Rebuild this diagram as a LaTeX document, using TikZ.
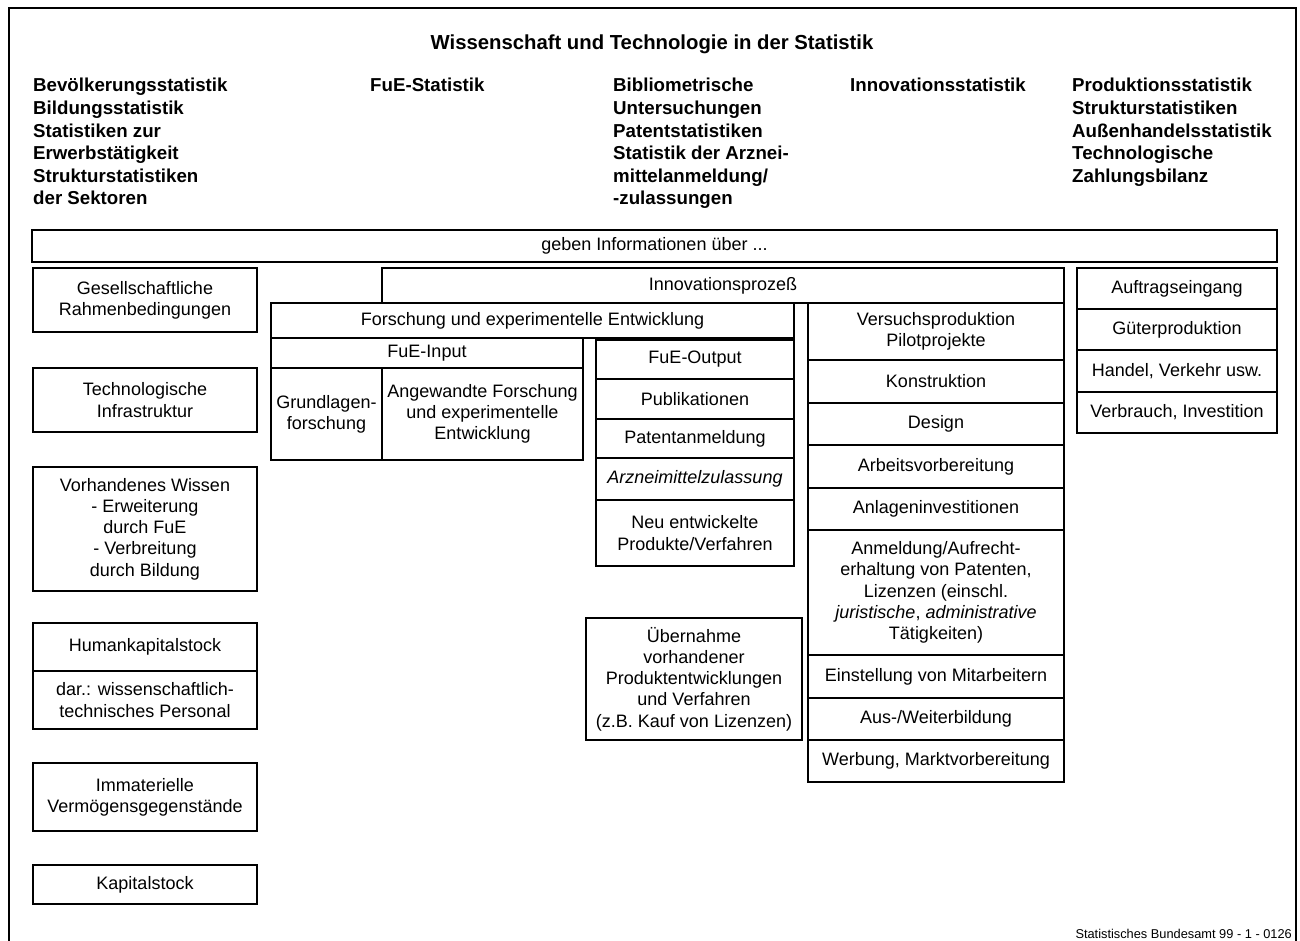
\documentclass[tikz,border=0pt]{standalone}
\usepackage{fontspec}
\setmainfont{Liberation Sans}
\begin{document}
\begin{tikzpicture}[x=1pt,y=-1pt,
  bx/.style={draw, line width=1.6pt, inner sep=0pt, align=center,
    font=\fontsize{18}{21.3}\selectfont},
  hdr/.style={inner sep=0pt, anchor=base west, font=\fontsize{18.7}{22.6}\selectfont\bfseries},
  frame/.style={line width=1.6pt}]
\useasboundingbox (0,0) rectangle (1300,941);
\clip (0,0) rectangle (1300,941);
\newcommand\bx[6]{\node[bx, minimum width={#4-#2}, minimum height={#5-#3}] (#1) at ({(#2+#4)/2},{(#3+#5)/2}) {#6};}
% outer frame
\coordinate (fbl) at (9,960);
\coordinate (ftl) at (9,8);
\coordinate (ftr) at (1296,8);
\coordinate (fbr) at (1296,960);
\draw[frame] (fbl) -- (ftl) -- (ftr) -- (fbr);
% title
\node[inner sep=0pt, anchor=base, font=\fontsize{20.3}{24}\selectfont\bfseries] (title) at (652,50) {Wissenschaft und Technologie in der Statistik};
% header columns
\node[hdr] (h1) at (33,92) {\begin{tabular}[t]{@{}l@{}}Bevölkerungsstatistik\\Bildungsstatistik\\Statistiken zur\\Erwerbstätigkeit\\Strukturstatistiken\\der Sektoren\end{tabular}};
\node[hdr] (h2) at (370,92) {\begin{tabular}[t]{@{}l@{}}FuE-Statistik\end{tabular}};
\node[hdr] (h3) at (613,92) {\begin{tabular}[t]{@{}l@{}}Bibliometrische\\Untersuchungen\\Patentstatistiken\\Statistik der Arznei-\\mittelanmeldung/\\-zulassungen\end{tabular}};
\node[hdr] (h4) at (850,92) {\begin{tabular}[t]{@{}l@{}}Innovationsstatistik\end{tabular}};
\node[hdr] (h5) at (1072,92) {\begin{tabular}[t]{@{}l@{}}Produktionsstatistik\\Strukturstatistiken\\Außenhandelsstatistik\\Technologische\\Zahlungsbilanz\end{tabular}};
% info bar
\bx{geben}{32}{230}{1277}{262}{geben Informationen über ...}
% left column
\bx{ges}{33}{268}{257}{332}{Gesellschaftliche\\Rahmenbedingungen}
\bx{tech}{33}{368}{257}{432}{Technologische\\Infrastruktur}
\bx{wiss}{33}{467}{257}{591}{Vorhandenes Wissen\\- Erweiterung\\durch FuE\\- Verbreitung\\durch Bildung}
\bx{hum}{33}{623}{257}{671}{Humankapitalstock}
\bx{dar}{33}{671}{257}{729}{dar.: wissenschaftlich-\\technisches Personal}
\bx{imm}{33}{763}{257}{831}{Immaterielle\\Vermögensgegenstände}
\bx{kap}{33}{865}{257}{904}{Kapitalstock}
% innovation process
\bx{innov}{382}{268}{1064}{303}{Innovationsprozeß}
\bx{fue}{271}{303}{794}{338}{Forschung und experimentelle Entwicklung}
\bx{fuein}{271}{338}{583}{368}{FuE-Input}
\bx{grund}{271}{368}{382}{460}{Grundlagen-\\forschung}
\bx{angew}{382}{368}{583}{460}{Angewandte Forschung\\und experimentelle\\Entwicklung}
\bx{fueout}{596}{340}{794}{379}{FuE-Output}
\bx{publ}{596}{379}{794}{419}{Publikationen}
\bx{pat}{596}{419}{794}{458}{Patentanmeldung}
\bx{arz}{596}{458}{794}{500}{\textit{Arzneimittelzulassung}}
\bx{neu}{596}{500}{794}{566}{Neu entwickelte\\Produkte/Verfahren}
\bx{ueb}{586}{618}{802}{740}{Übernahme\\vorhandener\\Produktentwicklungen\\und Verfahren\\(z.B. Kauf von Lizenzen)}
% production side column
\bx{vers}{808}{303}{1064}{360}{Versuchsproduktion\\Pilotprojekte}
\bx{kon}{808}{360}{1064}{403}{Konstruktion}
\bx{des}{808}{403}{1064}{445}{Design}
\bx{arb}{808}{445}{1064}{488}{Arbeitsvorbereitung}
\bx{anl}{808}{488}{1064}{530}{Anlageninvestitionen}
\bx{anm}{808}{530}{1064}{655}{Anmeldung/Aufrecht-\\erhaltung von Patenten,\\Lizenzen (einschl.\\\textit{juristische}, \textit{administrative}\\Tätigkeiten)}
\bx{ein}{808}{655}{1064}{698}{Einstellung von Mitarbeitern}
\bx{aus}{808}{698}{1064}{740}{Aus-/Weiterbildung}
\bx{wer}{808}{740}{1064}{782}{Werbung, Marktvorbereitung}
% right column
\bx{auf}{1077}{268}{1277}{309}{Auftragseingang}
\bx{gut}{1077}{309}{1277}{350}{Güterproduktion}
\bx{han}{1077}{350}{1277}{392}{Handel, Verkehr usw.}
\bx{verb}{1077}{392}{1277}{433}{Verbrauch, Investition}
% footer
\node[inner sep=0pt, anchor=base east, font=\fontsize{12.8}{14}\selectfont] (foot) at (1292,938) {Statistisches Bundesamt 99 - 1 - 0126};
\end{tikzpicture}
\end{document}
